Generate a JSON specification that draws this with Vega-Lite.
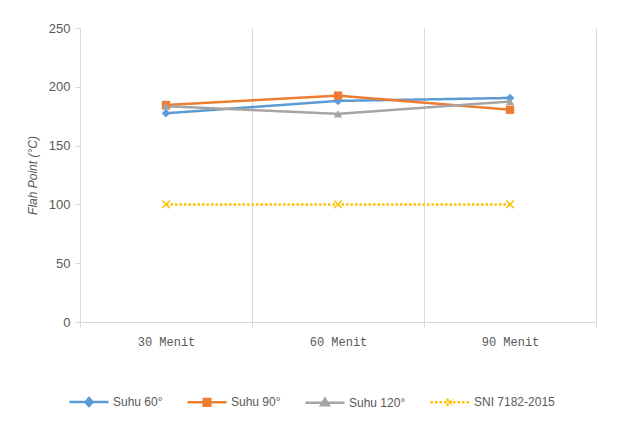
{
  "$schema": "https://vega.github.io/schema/vega-lite/v6.json",
  "width": 516,
  "height": 294,
  "autosize": {"type": "none"},
  "padding": {"left": 80, "top": 28, "right": 23, "bottom": 117},
  "background": "white",
  "config": {
    "view": {"stroke": null},
    "font": "Liberation Sans"
  },
  "data": {
    "values": [
      {"waktu": "30 Menit", "series": "Suhu 60°", "value": 177.5},
      {"waktu": "60 Menit", "series": "Suhu 60°", "value": 188},
      {"waktu": "90 Menit", "series": "Suhu 60°", "value": 190.5},
      {"waktu": "30 Menit", "series": "Suhu 90°", "value": 184.5},
      {"waktu": "60 Menit", "series": "Suhu 90°", "value": 192.5},
      {"waktu": "90 Menit", "series": "Suhu 90°", "value": 180.5},
      {"waktu": "30 Menit", "series": "Suhu 120°", "value": 183.5},
      {"waktu": "60 Menit", "series": "Suhu 120°", "value": 177},
      {"waktu": "90 Menit", "series": "Suhu 120°", "value": 187.5},
      {"waktu": "30 Menit", "series": "SNI 7182-2015", "value": 100},
      {"waktu": "60 Menit", "series": "SNI 7182-2015", "value": 100},
      {"waktu": "90 Menit", "series": "SNI 7182-2015", "value": 100}
    ]
  },
  "encoding": {
    "x": {
      "field": "waktu",
      "type": "ordinal",
      "sort": ["30 Menit", "60 Menit", "90 Menit"],
      "scale": {"type": "band", "paddingInner": 0, "paddingOuter": 0},
      "axis": {
        "title": null,
        "labelAngle": 0,
        "tickBand": "extent",
        "grid": true,
        "gridColor": "#d9d9d9",
        "gridWidth": 1,
        "domainColor": "#d9d9d9",
        "tickColor": "#d9d9d9",
        "tickSize": 5,
        "labelPadding": 9,
        "labelFont": "Liberation Mono",
        "labelFontSize": 12,
        "labelColor": "#595959"
      }
    },
    "y": {
      "field": "value",
      "type": "quantitative",
      "scale": {"domain": [0, 250], "nice": false},
      "axis": {
        "values": [0, 50, 100, 150, 200, 250],
        "grid": false,
        "title": "Flah Point (°C)",
        "titleFontStyle": "italic",
        "titleFontWeight": "normal",
        "titleFontSize": 12,
        "titleColor": "#595959",
        "titlePadding": 9,
        "domainColor": "#d9d9d9",
        "tickColor": "#d9d9d9",
        "tickSize": 5,
        "labelPadding": 5,
        "labelFontSize": 13,
        "labelColor": "#595959"
      }
    }
  },
  "layer": [
    {
      "mark": {"type": "line", "strokeWidth": 2.5},
      "encoding": {
        "color": {
          "field": "series",
          "type": "nominal",
          "scale": {
            "domain": ["Suhu 60°", "Suhu 90°", "Suhu 120°", "SNI 7182-2015"],
            "range": ["#5B9BD5", "#ED7D31", "#A5A5A5", "#FFC000"]
          },
          "legend": {
            "orient": "none",
            "legendX": -12,
            "legendY": 353,
            "direction": "horizontal",
            "title": null,
            "symbolSize": 1521,
            "symbolStrokeWidth": 2.5,
            "labelFontSize": 12,
            "labelColor": "#595959",
            "labelOffset": 3,
            "columnPadding": 19,
            "padding": 0,
            "encode": {
              "symbols": {
                "update": {
                  "shape": {"signal": "datum.value === 'Suhu 60°' ? 'M-1,0H1M0,-0.2L0.18,0L0,0.2L-0.18,0Z' : datum.value === 'Suhu 90°' ? 'M-1,0H1M-0.17,-0.17H0.17V0.17H-0.17Z' : datum.value === 'Suhu 120°' ? 'M-1,0H1M0,-0.2L0.2,0.14H-0.2Z' : 'M-1,0H1M-0.17,-0.17L0.17,0.17M-0.17,0.17L0.17,-0.17'"},
                  "fill": {"signal": "scale('color', datum.value)"},
                  "stroke": {"signal": "scale('color', datum.value)"},
                  "strokeDash": {"signal": "datum.value === 'SNI 7182-2015' ? [1.5, 2] : []"},
                  "strokeWidth": {"value": 2.5}
                }
              }
            }
          }
        },
        "strokeDash": {
          "field": "series",
          "type": "nominal",
          "scale": {
            "domain": ["Suhu 60°", "Suhu 90°", "Suhu 120°", "SNI 7182-2015"],
            "range": [[1, 0], [1, 0], [1, 0], [2.5, 2]]
          },
          "legend": null
        }
      }
    },
    {
      "transform": [{"filter": "datum.series === 'Suhu 60°'"}],
      "mark": {"type": "point", "shape": "diamond", "filled": true, "opacity": 1, "size": 75, "color": "#5B9BD5"}
    },
    {
      "transform": [{"filter": "datum.series === 'Suhu 90°'"}],
      "mark": {"type": "point", "shape": "square", "filled": true, "opacity": 1, "size": 70, "color": "#ED7D31"}
    },
    {
      "transform": [{"filter": "datum.series === 'Suhu 120°'"}],
      "mark": {"type": "point", "shape": "triangle-up", "filled": true, "opacity": 1, "size": 70, "color": "#A5A5A5"}
    },
    {
      "transform": [{"filter": "datum.series === 'SNI 7182-2015'"}],
      "mark": {"type": "point", "shape": "M-1,-1L1,1M-1,1L1,-1", "filled": false, "opacity": 1, "size": 60, "strokeWidth": 1.5, "color": "#FFC000"}
    }
  ]
}
